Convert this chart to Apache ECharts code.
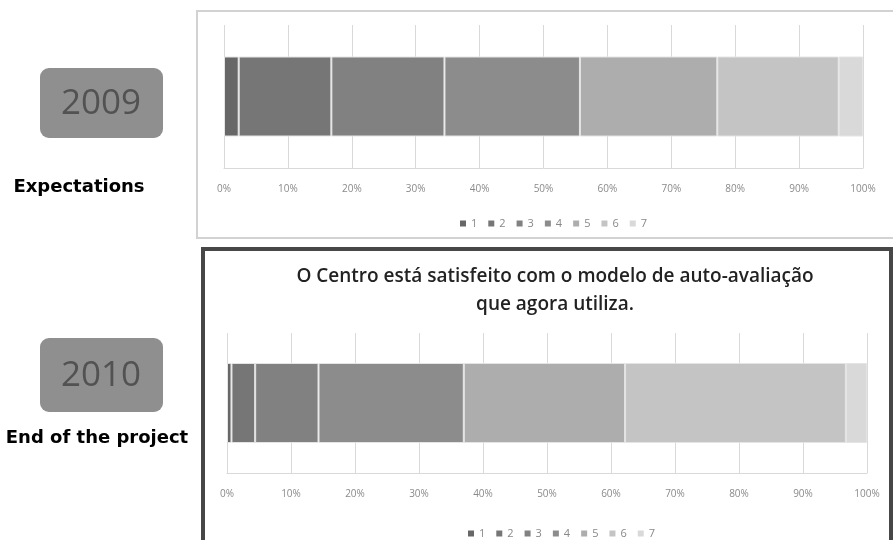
<!DOCTYPE html>
<html>
<head>
<meta charset="utf-8">
<script src="https://cdn.jsdelivr.net/npm/echarts@6/dist/echarts.min.js"></script>
<style>
  html, body { margin: 0; padding: 0; background: #fff; }
  #main { width: 893px; height: 540px; }
</style>
</head>
<body>
<div id="main"></div>
<script>
  // response levels 1..7
  var levels = ['1', '2', '3', '4', '5', '6', '7'];
  // % of answers per level
  var expectations2009 = [2.3, 14.5, 17.7, 21.2, 21.5, 19.0, 3.8];
  var endProject2010 = [0.7, 3.7, 9.9, 22.7, 25.2, 34.5, 3.3];
  var tickValues = [0, 10, 20, 30, 40, 50, 60, 70, 80, 90, 100];
  var greys = ['#676767', '#767676', '#818181', '#8c8c8c', '#adadad', '#c4c4c4', '#d9d9d9'];

  var chart = echarts.init(document.getElementById('main'));

  function makeSeries(values, idx) {
    return levels.map(function (name, i) {
      return {
        name: name,
        type: 'bar',
        stack: 's' + idx,
        xAxisIndex: idx,
        yAxisIndex: idx,
        barWidth: 80,
        itemStyle: { color: greys[i], borderColor: '#e4e4e4', borderWidth: 1 },
        emphasis: { disabled: true },
        data: [values[i]]
      };
    });
  }

  function valueAxis(idx) {
    return {
      type: 'value',
      gridIndex: idx,
      min: tickValues[0],
      max: tickValues[tickValues.length - 1],
      interval: 10,
      axisLine: { show: true, lineStyle: { color: '#d9d9d9', width: 1 } },
      axisTick: { show: false },
      splitLine: { show: true, lineStyle: { color: '#d9d9d9', width: 1 } },
      axisLabel: { formatter: '{value}%', color: '#8a8a8a', fontSize: 10, margin: 16, fontFamily: 'Open Sans' }
    };
  }

  function catAxis(idx) {
    return {
      type: 'category',
      gridIndex: idx,
      data: [''],
      axisLine: { show: false },
      axisTick: { show: false },
      axisLabel: { show: false }
    };
  }

  var legendBase = {
    data: levels,
    icon: 'rect',
    itemWidth: 6,
    itemHeight: 6,
    itemGap: 11,
    selectedMode: false,
    itemStyle: { borderWidth: 0 },
    textStyle: { color: '#888', fontSize: 11, fontFamily: 'Open Sans' }
  };

  chart.setOption({
    animation: false,
    title: {
      text: 'O Centro está satisfeito com o modelo de auto-avaliação\nque agora utiliza.',
      left: 550,
      top: 258,
      textAlign: 'center',
      textStyle: { fontSize: 19, fontWeight: 600, color: '#222', lineHeight: 28, fontFamily: 'Open Sans' }
    },
    legend: [
      Object.assign({ top: 213, left: 455 }, legendBase),
      Object.assign({ top: 523, left: 463 }, legendBase)
    ],
    grid: [
      { left: 224, right: 30, top: 25, height: 143 },
      { left: 227, right: 26, top: 333, height: 140 }
    ],
    xAxis: [valueAxis(0), valueAxis(1)],
    yAxis: [catAxis(0), catAxis(1)],
    series: makeSeries(expectations2009, 0).concat(makeSeries(endProject2010, 1)),
    graphic: [
      { type: 'rect', shape: { x: 197, y: 11, width: 700, height: 227 }, style: { fill: null, stroke: '#d2d2d2', lineWidth: 2 }, z: -1 },
      { type: 'rect', shape: { x: 203, y: 249, width: 688, height: 300 }, style: { fill: null, stroke: '#474747', lineWidth: 4 }, z: -1 },
      { type: 'rect', shape: { x: 40, y: 68, width: 123, height: 70, r: 9 }, style: { fill: '#8f8f8f' } },
      { type: 'text', style: { x: 101, y: 104, text: '2009', fill: '#525252', font: '35px "Open Sans"', align: 'center', verticalAlign: 'middle' } },
      { type: 'rect', shape: { x: 40, y: 338, width: 123, height: 74, r: 9 }, style: { fill: '#8f8f8f' } },
      { type: 'text', style: { x: 101, y: 376, text: '2010', fill: '#525252', font: '35px "Open Sans"', align: 'center', verticalAlign: 'middle' } },
      { type: 'text', style: { x: 79, y: 187, text: 'Expectations', fill: '#000', font: 'bold 18px "DejaVu Sans"', align: 'center', verticalAlign: 'middle' } },
      { type: 'text', style: { x: 97, y: 438, text: 'End of the project', fill: '#000', font: 'bold 18px "DejaVu Sans"', align: 'center', verticalAlign: 'middle' } }
    ]
  });
</script>
</body>
</html>
